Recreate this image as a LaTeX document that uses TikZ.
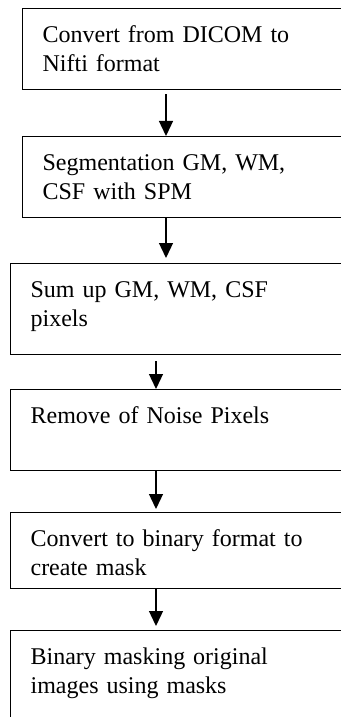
\documentclass[tikz,border=0pt]{standalone}
\usepackage{fontspec}
\setmainfont{Liberation Serif}
\usetikzlibrary{arrows.meta}
\tikzset{
  stepbox/.style={draw, line width=0.6pt, anchor=north west, align=left,
    text width=200pt, minimum width=220pt, inner xsep=10pt, inner ysep=0pt,
    text height=17pt, text depth=#1},
  flow/.style={-{Triangle[width=7pt,length=7.5pt]}, line width=0.65pt},
}
\begin{document}
\begin{tikzpicture}[x=0.5pt, y=-0.5pt, font=\fontsize{12pt}{14.5pt}\selectfont]
  \useasboundingbox (0,0) rectangle (341,717);
  \clip (0,0) rectangle (341,717);
  % processing steps
  \node[stepbox=23.5pt] (dicom) at (22,8) {Convert from DICOM to\\Nifti format};
  \node[stepbox=23.5pt] (segm) at (22,136) {Segmentation GM, WM,\\CSF with SPM};
  \node[stepbox=28.5pt] (sumup) at (10,263) {Sum up GM, WM, CSF\\pixels};
  \node[stepbox=23.5pt] (noise) at (10,389) {Remove of Noise Pixels};
  \node[stepbox=21pt] (binary) at (10,512) {Convert to binary format to\\create mask};
  \node[stepbox=33pt] (masking) at (10,630) {Binary masking original\\images using masks};
  % arrows between steps
  \draw[flow, shorten <=2pt] ([xshift=72pt]dicom.south west) -- ([xshift=72pt]segm.north west);
  \draw[flow, shorten >=2.5pt] ([xshift=72pt]segm.south west) -- ([xshift=78pt]sumup.north west);
  \draw[flow, shorten <=3pt] ([xshift=73pt]sumup.south west) -- ([xshift=73pt]noise.north west);
  \draw[flow, shorten >=1.5pt] ([xshift=73pt]noise.south west) -- ([xshift=73pt]binary.north west);
  \draw[flow, shorten >=2pt] ([xshift=73pt]binary.south west) -- ([xshift=73pt]masking.north west);
\end{tikzpicture}
\end{document}
